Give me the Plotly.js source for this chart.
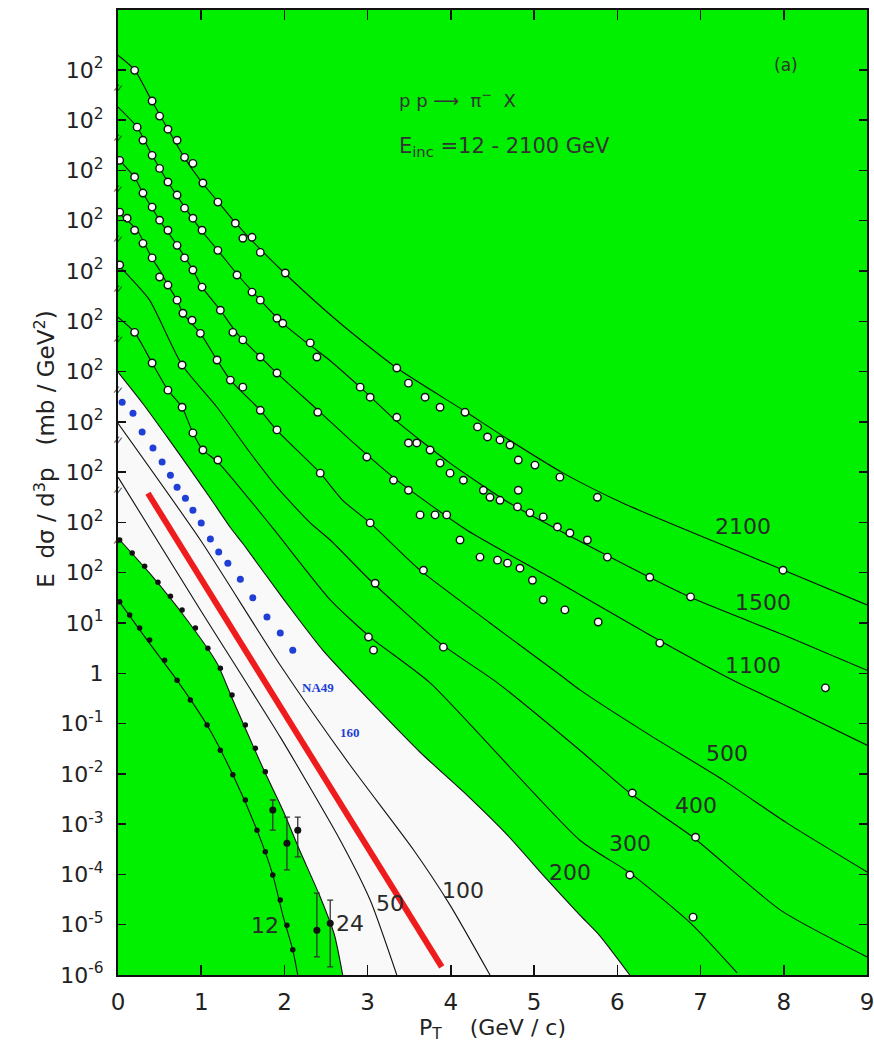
<!DOCTYPE html>
<html>
<head>
<meta charset="utf-8">
<script src="https://cdn.plot.ly/plotly-3.0.1.min.js"></script>
<style>html,body{margin:0;padding:0;background:#fff;}#chart{width:874px;height:1052px;}</style>
</head>
<body>
<div id="chart"></div>
<script>
// ---------- data (pT in GeV/c, values read as log10 of the plotted, decade-shifted cross section) ----------
const energies = ['2100','1500','1100','500','400','300','200','100','50','24','12'];

const pt2100 = [0,0.2,0.4,0.6,0.8,1.0,1.2,1.4,1.6,2.0,2.67,3.35,4.15,4.68,5.35,6.07,7.15,8.0,9.0];
const lg2100 = [12.29,12.0,11.4,10.82,10.25,9.78,9.38,8.98,8.62,7.96,6.96,6.07,5.23,4.66,3.98,3.38,2.63,2.05,1.36];

const pt1500 = [0,0.23,0.41,0.6,0.81,1.0,1.2,1.44,1.71,1.98,2.31,2.51,2.91,3.35,3.99,4.71,5.59,6.88,8.0,9.0];
const lg1500 = [11.26,10.86,10.30,9.77,9.25,8.81,8.41,7.92,7.42,6.96,6.52,6.27,5.69,5.01,4.18,3.38,2.59,1.51,0.76,0.06];

const pt1100 = [0,0.2,0.3,0.5,0.71,0.9,1.01,1.23,1.43,1.71,1.91,2.43,2.79,3.35,4.19,5.19,6.39,7.39,7.96,9.0];
const lg1100 = [10.24,9.86,9.55,9.01,8.51,8.02,7.68,7.22,6.76,6.29,5.97,5.19,4.64,3.84,2.85,1.91,0.76,-0.14,-0.59,-1.43];

const pt500 = [0,0.23,0.41,0.5,0.6,0.71,0.78,0.99,1.19,1.35,1.71,1.91,2.43,2.7,3.03,3.63,4.47,5.35,5.55,6.39,7.27,8.04,9.0];
const lg500 = [9.17,8.81,8.25,8.02,7.72,7.42,7.16,6.76,6.23,5.83,5.23,4.83,3.98,3.44,2.99,2.05,1.0,-0.08,-0.33,-1.23,-2.12,-2.98,-3.95];

const pt400 = [0,0.14,0.38,0.77,1.19,1.59,1.91,2.31,2.55,3.03,3.87,4.56,5.55,6.15,6.91,7.96,9.0];
const lg400 = [8.12,7.88,7.42,6.13,5.29,4.38,3.70,2.99,2.65,1.85,0.60,-0.19,-1.53,-2.38,-3.26,-4.71,-5.64];

const pt300 = [0,0.2,0.41,0.6,0.77,0.9,1.02,1.2,1.83,2.55,3.03,3.75,5.55,6.15,6.88,7.44];
const lg300 = [7.08,6.78,6.17,5.63,5.29,4.78,4.44,4.20,2.95,1.46,0.72,-0.19,-3.32,-3.97,-4.97,-5.96];

const pt200 = [0,0.3,0.59,0.87,1.11,1.35,1.5,2.0,2.46,3.11,3.63,4.19,4.68,5.16,5.55,5.79,6.15];
const lg200 = [5.99,5.36,4.70,4.05,3.48,2.90,2.58,1.45,0.46,-0.69,-1.57,-2.42,-3.22,-4.11,-4.81,-5.22,-6.0];

const pt100 = [0,0.99,1.95,2.79,3.55,3.99,4.47];
const lg100 = [4.97,2.65,0.16,-1.83,-3.51,-4.61,-6.0];

const pt50 = [0,0.99,1.95,2.67,3.03,3.35];
const lg50 = [3.90,1.26,-1.27,-3.32,-4.51,-6.0];

const pt24 = [0,0.38,0.83,1.19,1.38,1.74,1.98,2.18,2.42,2.60,2.70];
const lg24 = [2.69,1.99,1.06,0.20,-0.53,-1.88,-2.72,-3.51,-4.41,-5.20,-6.0];

const pt12 = [0,0.35,0.71,1.07,1.38,1.67,1.86,1.98,2.10,2.16];
const lg12 = [1.46,0.66,-0.14,-1.03,-2.02,-3.12,-4.01,-4.81,-5.50,-6.0];

// red line and NA49 160 GeV points
const ptRed = [0.36,3.89];
const lgRed = [3.58,-5.84];
const ptNA49 = [0.05,0.18,0.29,0.42,0.53,0.63,0.71,0.81,0.90,1.00,1.11,1.21,1.32,1.47,1.62,1.79,1.95,2.10];
const lgNA49 = [5.39,5.17,4.80,4.48,4.20,3.94,3.70,3.48,3.24,2.99,2.67,2.41,2.19,1.87,1.50,1.12,0.80,0.46];

// measured points (open symbols)
const mPt2100 = [0.20,0.41,0.50,0.60,0.71,0.80,0.90,1.02,1.20,1.41,1.50,1.61,1.71,2.01,3.35,3.49,3.69,3.87,4.17,4.32,4.44,4.59,4.71,4.81,5.01,5.31,5.76,7.99];
const mLg2100 = [11.99,11.38,11.08,10.82,10.60,10.26,10.14,9.75,9.37,8.95,8.65,8.67,8.37,7.96,6.07,5.77,5.49,5.29,5.19,4.90,4.70,4.64,4.54,4.24,4.14,3.90,3.50,2.05];
const mPt1500 = [0.23,0.30,0.41,0.50,0.60,0.71,0.80,0.90,1.01,1.20,1.43,1.61,1.71,1.91,1.98,2.31,2.39,2.91,3.03,3.35,3.49,3.59,3.75,3.87,3.99,4.15,4.39,4.47,4.59,4.80,4.81,4.95,5.11,5.28,5.43,5.64,5.88,6.39,6.88];
const mLg1500 = [10.86,10.60,10.30,10.04,9.77,9.51,9.25,9.05,8.81,8.41,7.92,7.58,7.42,7.06,6.96,6.57,6.29,5.69,5.49,5.09,4.58,4.58,4.44,4.18,3.98,3.84,3.64,3.50,3.44,3.31,3.64,3.19,3.11,2.91,2.79,2.65,2.31,1.91,1.52];
const mPt1100 = [0.02,0.20,0.30,0.41,0.50,0.60,0.71,0.80,0.90,1.01,1.23,1.38,1.50,1.71,1.91,2.40,2.99,3.31,3.49,3.63,3.81,3.95,4.11,4.35,4.56,4.68,4.83,4.98,5.11,5.37,5.77,6.51,8.50];
const mLg1100 = [10.20,9.87,9.55,9.27,9.01,8.81,8.51,8.26,8.02,7.68,7.22,6.78,6.63,6.29,5.97,5.19,4.30,3.84,3.64,3.15,3.15,3.15,2.65,2.31,2.25,2.19,2.09,1.85,1.46,1.26,1.02,0.60,-0.29];
const mPt500 = [0.02,0.11,0.20,0.30,0.41,0.50,0.60,0.71,0.78,0.89,0.99,1.19,1.35,1.50,1.71,1.91,2.43,3.03,3.67];
const mLg500 = [9.17,9.05,8.81,8.55,8.26,7.88,7.72,7.42,7.16,7.02,6.76,6.23,5.83,5.69,5.23,4.84,3.98,2.99,2.05];
const mPt400 = [0.02,0.77,3.09,3.91,6.18,6.94];
const mLg400 = [8.12,6.13,1.79,0.52,-2.38,-3.26];
const mPt300 = [0.20,0.41,0.60,0.77,0.90,1.02,1.20,3.01,3.07,6.15,6.91];
const mLg300 = [6.78,6.17,5.63,5.29,4.78,4.44,4.24,0.72,0.46,-4.01,-4.85];

// measured points (filled symbols) at 12 and 24 GeV
const mPt24 = [0.02,0.17,0.32,0.48,0.63,0.77,0.93,1.08,1.23,1.37,1.53,1.65,1.77];
const mLg24 = [2.65,2.39,2.13,1.81,1.53,1.26,0.90,0.50,0.10,-0.43,-1.03,-1.49,-1.96];
const mPt12 = [0.02,0.14,0.26,0.38,0.56,0.71,0.87,1.07,1.23,1.38,1.53,1.67,1.77,1.86,1.95,2.03,2.10];
const mLg12 = [1.42,1.16,0.90,0.66,0.26,-0.14,-0.53,-1.03,-1.53,-2.02,-2.52,-3.12,-3.55,-4.01,-4.51,-5.01,-5.50];
// points with error bars near the 24 GeV curve
const ePt = [1.86,2.03,2.16,2.39,2.55];
const eLg = [-2.72,-3.38,-3.12,-5.11,-4.97];
const eLgHi = [-2.52,-2.86,-2.86,-4.37,-4.51];
const eLgLo = [-3.12,-3.91,-3.65,-5.64,-5.84];

// y tick labels (curves are shifted by decades)
const yTickExp = [-6,-5,-4,-3,-2,-1,0,1,2,3,4,5,6,7,8,9,10,11,12];
const yTickText = ['10<sup>-6</sup>','10<sup>-5</sup>','10<sup>-4</sup>','10<sup>-3</sup>','10<sup>-2</sup>','10<sup>-1</sup>','1','10<sup>1</sup>',
  '10<sup>2</sup>','10<sup>2</sup>','10<sup>2</sup>','10<sup>2</sup>','10<sup>2</sup>','10<sup>2</sup>','10<sup>2</sup>','10<sup>2</sup>','10<sup>2</sup>','10<sup>2</sup>','10<sup>2</sup>'];
const xTicks = [0,1,2,3,4,5,6,7,8,9];

// ---------- drawing ----------
const P = a => a.map(v => Math.pow(10, v));
const GREEN = '#00f000';
const traces = [];

// white band between the 200 GeV and 24 GeV curves
traces.push({x: pt24, y: P(lg24), mode:'lines', line:{width:0, shape:'spline', smoothing:0.6}, hoverinfo:'skip', showlegend:false});
traces.push({x: pt200, y: P(lg200), mode:'lines', fill:'tonexty', fillcolor:'#f9f9f9', line:{width:0, shape:'spline', smoothing:0.6}, hoverinfo:'skip', showlegend:false});

const curves = [[pt2100,lg2100],[pt1500,lg1500],[pt1100,lg1100],[pt500,lg500],[pt400,lg400],[pt300,lg300],[pt200,lg200],[pt100,lg100],[pt50,lg50],[pt24,lg24],[pt12,lg12]];
curves.forEach((c,i) => traces.push({x:c[0], y:P(c[1]), mode:'lines', name:energies[i]+' GeV',
  line:{color:'#111', width:1.1, shape:'spline', smoothing:0.6}}));

// open data points
[[mPt2100,mLg2100],[mPt1500,mLg1500],[mPt1100,mLg1100],[mPt500,mLg500],[mPt400,mLg400],[mPt300,mLg300]].forEach(m =>
  traces.push({x:m[0], y:P(m[1]), mode:'markers', marker:{symbol:'circle', size:7.5, color:'#ffffff', line:{color:'#111', width:1.4}}}));

// filled data points
traces.push({x:mPt24, y:P(mLg24), mode:'markers', marker:{symbol:'circle', size:5.5, color:'#111'}});
traces.push({x:mPt12, y:P(mLg12), mode:'markers', marker:{symbol:'circle', size:5.5, color:'#111'}});
traces.push({x:ePt, y:P(eLg), mode:'markers', marker:{symbol:'circle', size:7, color:'#111'},
  error_y:{type:'data', symmetric:false,
    array: eLg.map((v,i)=>Math.pow(10,eLgHi[i])-Math.pow(10,v)),
    arrayminus: eLg.map((v,i)=>Math.pow(10,v)-Math.pow(10,eLgLo[i])),
    color:'#333', thickness:1.3, width:3}});

// red line
traces.push({x:ptRed, y:P(lgRed), mode:'lines', line:{color:'#ee1c1c', width:6}});
// NA49 160 GeV dots
traces.push({x:ptNA49, y:P(lgNA49), mode:'markers', marker:{symbol:'circle', size:7, color:'#1f3fd6'}});

const labelFont = {family:'DejaVu Sans', size:22, color:'#2a2a2a'};
const curveLabels = [
  ['2100',7.51,2.91],['1500',7.75,1.40],['1100',7.63,0.16],['500',7.32,-1.59],['400',6.94,-2.62],
  ['300',6.15,-3.38],['200',5.43,-3.97],['100',4.15,-4.31],['50',3.27,-4.57],['24',2.79,-4.97],['12',1.77,-5.01]];
const annotations = curveLabels.map(l => ({text:l[0], x:l[1], y:l[2], xref:'x', yref:'y', showarrow:false, font:labelFont}));
annotations.push({text:'NA49', x:2.40, y:-0.29, xref:'x', yref:'y', showarrow:false, font:{family:'Liberation Serif', size:13, color:'#1f3fd6', weight:'bold'}});
annotations.push({text:'160', x:2.79, y:-1.17, xref:'x', yref:'y', showarrow:false, font:{family:'Liberation Serif', size:13, color:'#1f3fd6', weight:'bold'}});
annotations.push({text:'(a)', x:0.91, y:0.955, xref:'paper', yref:'paper', showarrow:false, font:{family:'DejaVu Sans', size:17, color:'#333'}});
annotations.push({text:'p p ⟶  π<sup>−</sup>  X', x:0.372, y:0.922, xref:'paper', yref:'paper', xanchor:'left', showarrow:false, font:{family:'DejaVu Sans', size:18, color:'#333'}});
annotations.push({text:'E<sub>inc</sub> =12 - 2100 GeV', x:0.372, y:0.874, xref:'paper', yref:'paper', xanchor:'left', showarrow:false, font:{family:'DejaVu Sans', size:21, color:'#333'}});
// y axis title placed like the reference
annotations.push({text:'E  dσ / d<sup>3</sup>p   (mb / GeV<sup>2</sup>)', x:-0.098, y:0.545, xref:'paper', yref:'paper', xanchor:'center', yanchor:'middle', textangle:-90, showarrow:false, font:{family:'DejaVu Sans', size:23, color:'#222'}});
// axis break marks on the left axis
for (let k = 3; k <= 12; k++) {
  annotations.push({text:'//', x:0, y:k-0.36, xref:'paper', yref:'y', xanchor:'center', showarrow:false, font:{family:'DejaVu Sans', size:9, color:'#111'}, textangle:20});
}

const layout = {
  width:874, height:1052,
  margin:{l:118, r:7, t:10, b:77},
  paper_bgcolor:'#ffffff', plot_bgcolor:GREEN,
  showlegend:false,
  font:{family:'DejaVu Sans', color:'#222'},
  xaxis:{range:[0,9], tickvals:xTicks, ticktext:xTicks.map(String), ticks:'inside', ticklen:10, tickwidth:1.5, tickcolor:'#111',
    showline:true, linewidth:2, linecolor:'#111', mirror:'ticks', showgrid:false, zeroline:false,
    tickfont:{family:'DejaVu Sans', size:23, color:'#222'}, ticklabelstandoff:5, ticklabeloverflow:'allow',
    title:{text:'P<sub>T</sub>    (GeV / c)', font:{family:'DejaVu Sans', size:22, color:'#222'}, standoff:4}},
  yaxis:{type:'log', range:[-6,13.19], tickvals:P(yTickExp), ticktext:yTickText, ticks:'inside', ticklen:8, tickwidth:1.5, tickcolor:'#111',
    showline:true, linewidth:2, linecolor:'#111', mirror:'ticks', showgrid:false, zeroline:false,
    tickfont:{family:'DejaVu Sans', size:22, color:'#222'}, ticklabelstandoff:8, ticklabeloverflow:'allow'},
  annotations:annotations
};

Plotly.newPlot('chart', traces, layout, {displayModeBar:false, staticPlot:true});
</script>
</body>
</html>
